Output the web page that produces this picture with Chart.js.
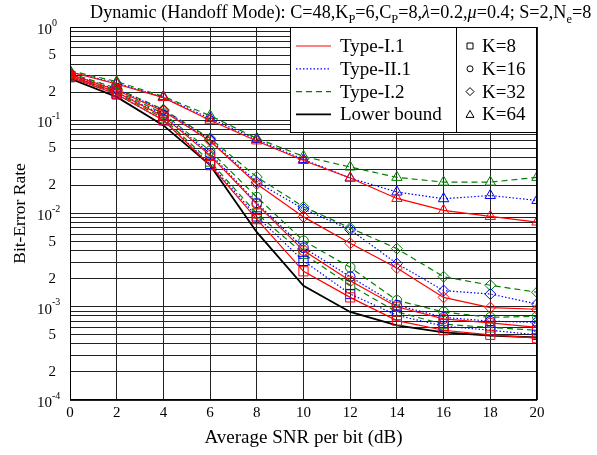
<!DOCTYPE html>
<html>
<head>
<meta charset="utf-8">
<script src="https://cdn.jsdelivr.net/npm/chart.js@4.4.1/dist/chart.umd.min.js"></script>
<style>
    html, body { margin: 0; padding: 0; background: #fff; }
    #wrap { width: 597px; height: 455px; }
</style>
</head>
<body>
<div id="wrap"><canvas id="berChart" width="597" height="455"></canvas></div>
<script>
// SNR axis (dB)
const snr = [0, 2, 4, 6, 8, 10, 12, 14, 16, 18, 20];

// Lower bound
const lowerBound = [0.28, 0.178, 0.088, 0.033, 0.0063, 0.00168, 0.00088, 0.00063, 0.00053, 0.00049, 0.00047];

// Type-I.1 (red, solid)
const typeI1_K8  = [0.29, 0.19, 0.100, 0.033, 0.0087, 0.0024, 0.00126, 0.00071, 0.00056, 0.0005, 0.00046];
const typeI1_K16 = [0.30, 0.20, 0.110, 0.042, 0.0126, 0.0040, 0.0019, 0.0010, 0.00074, 0.00067, 0.0006];
const typeI1_K32 = [0.31, 0.21, 0.125, 0.060, 0.0207, 0.0092, 0.0048, 0.0026, 0.00126, 0.00098, 0.00094];
const typeI1_K64 = [0.33, 0.245, 0.175, 0.100, 0.060, 0.037, 0.024, 0.0145, 0.0108, 0.0093, 0.0081];

// Type-II.1 (blue, dotted)
const typeII1_K8  = [0.29, 0.19, 0.100, 0.034, 0.0093, 0.0031, 0.00137, 0.00081, 0.00062, 0.00056, 0.0005];
const typeII1_K16 = [0.30, 0.20, 0.113, 0.044, 0.0130, 0.0043, 0.0021, 0.00104, 0.00077, 0.0007, 0.00068];
const typeII1_K32 = [0.31, 0.215, 0.128, 0.062, 0.0217, 0.0112, 0.0067, 0.0029, 0.00149, 0.00137, 0.00107];
const typeII1_K64 = [0.33, 0.25, 0.176, 0.105, 0.062, 0.038, 0.024, 0.017, 0.0144, 0.0156, 0.0138];

// Type-I.2 (green, dashed)
const typeI2_K8  = [0.30, 0.195, 0.105, 0.036, 0.0100, 0.0037, 0.0017, 0.00088, 0.00065, 0.0006, 0.00056];
const typeI2_K16 = [0.31, 0.205, 0.118, 0.047, 0.0150, 0.0051, 0.00265, 0.00117, 0.00088, 0.00077, 0.00079];
const typeI2_K32 = [0.32, 0.22, 0.130, 0.064, 0.0246, 0.0118, 0.0070, 0.0042, 0.0021, 0.0017, 0.00143];
const typeI2_K64 = [0.34, 0.26, 0.180, 0.112, 0.064, 0.041, 0.0315, 0.0244, 0.0217, 0.0217, 0.0244];

// Axis ticks
const xTicks = [0, 2, 4, 6, 8, 10, 12, 14, 16, 18, 20];
const yDecades = [-4, -3, -2, -1, 0];
const yMantissas = [2, 5];

const FONT = "'Liberation Serif', 'DejaVu Serif', serif";

const RED = '#ff0000';
const BLUE = '#0000ff';
const GREEN = '#008000';

const markers = {
    8:  { style: 'rect', radius: 6.5 },
    16: { style: 'circle', radius: 4.8 },
    32: { style: 'rectRot', radius: 5.5 },
    64: { style: 'triangle', radius: 6 },
};

function curve(values, color, dash, k) {
    return {
        data: snr.map((s, i) => ({ x: s, y: values[i] })),
        borderColor: color,
        borderWidth: 1.2,
        borderDash: dash,
        pointStyle: markers[k].style,
        pointRadius: markers[k].radius,
        pointBorderWidth: 1,
        pointBorderColor: color,
        pointBackgroundColor: 'rgba(0,0,0,0)',
        fill: false,
        tension: 0,
    };
}

const datasets = [
    curve(typeI1_K8, RED, [], 8),
    curve(typeI1_K16, RED, [], 16),
    curve(typeI1_K32, RED, [], 32),
    curve(typeI1_K64, RED, [], 64),
    curve(typeII1_K8, BLUE, [1.5, 2], 8),
    curve(typeII1_K16, BLUE, [1.5, 2], 16),
    curve(typeII1_K32, BLUE, [1.5, 2], 32),
    curve(typeII1_K64, BLUE, [1.5, 2], 64),
    curve(typeI2_K8, GREEN, [6, 4], 8),
    curve(typeI2_K16, GREEN, [6, 4], 16),
    curve(typeI2_K32, GREEN, [6, 4], 32),
    curve(typeI2_K64, GREEN, [6, 4], 64),
    {
        data: snr.map((s, i) => ({ x: s, y: lowerBound[i] })),
        borderColor: '#000',
        borderWidth: 1.8,
        pointRadius: 0,
        fill: false,
        tension: 0,
    },
];

// grid values: every 1..9 x 10^e
const yGrid = [];
yDecades.forEach(e => {
    const top = e === 0 ? 1 : 9;
    for (let m = 1; m <= top; m++) yGrid.push(m * Math.pow(10, e));
});

// small black symbols for the K legend
function drawSymbol(ctx, style, x, y, r) {
    ctx.beginPath();
    if (style === 'rect') {
        ctx.rect(x - r, y - r, 2 * r, 2 * r);
    } else if (style === 'circle') {
        ctx.arc(x, y, r, 0, Math.PI * 2);
    } else if (style === 'rectRot') {
        ctx.moveTo(x, y - r - 1);
        ctx.lineTo(x + r + 1, y);
        ctx.lineTo(x, y + r + 1);
        ctx.lineTo(x - r - 1, y);
        ctx.closePath();
    } else {
        ctx.moveTo(x, y - r - 1);
        ctx.lineTo(x + r + 1, y + r);
        ctx.lineTo(x - r - 1, y + r);
        ctx.closePath();
    }
    ctx.stroke();
}

// text with subscript parts: [text, 'sub'|'sup'|'it'|undefined]
function drawRich(ctx, parts, x, y, size) {
    parts.forEach(([t, mode]) => {
        let f = size, dy = 0, style = '';
        if (mode === 'sub') { f = size * 0.68; dy = size * 0.25; }
        if (mode === 'sup') { f = size * 0.68; dy = -size * 0.42; }
        if (mode === 'it') style = 'italic ';
        ctx.font = style + f + 'px ' + FONT;
        ctx.fillText(t, x, y + dy);
        x += ctx.measureText(t).width;
    });
}

const decorations = {
    id: 'decorations',
    afterDraw(chart) {
        const { ctx, chartArea: area, scales: { x, y } } = chart;
        ctx.save();
        ctx.fillStyle = '#000';
        ctx.strokeStyle = '#000';
        ctx.setLineDash([]);

        // frame
        ctx.lineWidth = 1;
        ctx.strokeRect(area.left + 0.5, area.top + 0.5, area.width - 1, area.height - 1);

        // title
        ctx.textBaseline = 'alphabetic';
        ctx.textAlign = 'left';
        drawRich(ctx, [
            ['Dynamic (Handoff Mode): C=48,K'], ['P', 'sub'], ['=6,C'], ['P', 'sub'],
            ['=8,'], ['λ', 'it'], ['=0.2,'], ['μ', 'it'], ['=0.4; S=2,N'], ['e', 'sub'], ['=8'],
        ], 90, 18, 18.2);

        // x tick labels
        ctx.font = '15px ' + FONT;
        ctx.textAlign = 'center';
        ctx.textBaseline = 'top';
        xTicks.forEach(v => ctx.fillText(String(v), x.getPixelForValue(v), area.bottom + 6));

        // y tick labels
        ctx.textBaseline = 'middle';
        yDecades.forEach(e => {
            const py = y.getPixelForValue(Math.pow(10, e));
            ctx.textAlign = 'left';
            ctx.font = '15px ' + FONT;
            ctx.fillText('10', 37, py + 3);
            ctx.font = '10px ' + FONT;
            ctx.fillText(String(e), 52, py - 4);
            if (e < 0) {
                ctx.font = '15px ' + FONT;
                ctx.textAlign = 'right';
                yMantissas.forEach(m => {
                    ctx.fillText(String(m), 56, y.getPixelForValue(m * Math.pow(10, e)));
                });
            }
        });

        // axis titles
        ctx.font = '19px ' + FONT;
        ctx.textAlign = 'center';
        ctx.textBaseline = 'alphabetic';
        ctx.fillText('Average SNR per bit (dB)', (area.left + area.right) / 2, 443);
        ctx.save();
        ctx.font = '17.5px ' + FONT;
        ctx.translate(25, (area.top + area.bottom) / 2);
        ctx.rotate(-Math.PI / 2);
        ctx.fillText('Bit-Error Rate', 0, 0);
        ctx.restore();

        // legend box
        const lx = 290, ly = area.top, lw = area.right - lx, lh = 105;
        const divX = 456;
        ctx.fillStyle = '#fff';
        ctx.fillRect(lx, ly, lw, lh);
        ctx.strokeRect(lx + 0.5, ly + 0.5, lw - 1, lh);
        ctx.beginPath();
        ctx.moveTo(divX + 0.5, ly);
        ctx.lineTo(divX + 0.5, ly + lh);
        ctx.stroke();

        const rows = [
            { label: 'Type-I.1', color: RED, dash: [], width: 1.2 },
            { label: 'Type-II.1', color: BLUE, dash: [1.5, 2], width: 1.2 },
            { label: 'Type-I.2', color: GREEN, dash: [6, 4], width: 1.2 },
            { label: 'Lower bound', color: '#000', dash: [], width: 1.8 },
        ];
        const kRows = [8, 16, 32, 64];
        ctx.textAlign = 'left';
        ctx.textBaseline = 'middle';
        ctx.font = '19px ' + FONT;
        rows.forEach((r, i) => {
            const ry = ly + 19 + i * 22.8;
            ctx.strokeStyle = r.color;
            ctx.lineWidth = r.width;
            ctx.setLineDash(r.dash);
            ctx.beginPath();
            ctx.moveTo(296, ry);
            ctx.lineTo(331, ry);
            ctx.stroke();
            ctx.setLineDash([]);
            ctx.fillStyle = '#000';
            ctx.fillText(r.label, 340, ry + 1);
        });
        ctx.strokeStyle = '#000';
        ctx.lineWidth = 1;
        kRows.forEach((k, i) => {
            const ry = ly + 19 + i * 22.8;
            drawSymbol(ctx, markers[k].style, 470, ry, 3);
            ctx.fillText('K=' + k, 482, ry + 1);
        });

        ctx.restore();
    },
};

new Chart(document.getElementById('berChart'), {
    type: 'line',
    data: { datasets },
    options: {
        responsive: false,
        animation: false,
        layout: { padding: { left: 70, right: 60, top: 27, bottom: 55 } },
        plugins: {
            legend: { display: false },
            tooltip: { enabled: false },
        },
        scales: {
            x: {
                type: 'linear',
                min: 0,
                max: 20,
                afterBuildTicks: (scale) => { scale.ticks = xTicks.map(v => ({ value: v })); },
                ticks: { display: false },
                grid: { color: '#222', lineWidth: 1, drawTicks: false },
                border: { display: false },
            },
            y: {
                type: 'logarithmic',
                min: 1e-4,
                max: 1,
                afterBuildTicks: (scale) => { scale.ticks = yGrid.map(v => ({ value: v })); },
                ticks: { display: false },
                grid: { color: '#222', lineWidth: 1, drawTicks: false },
                border: { display: false },
            },
        },
    },
    plugins: [decorations],
});
</script>
</body>
</html>
